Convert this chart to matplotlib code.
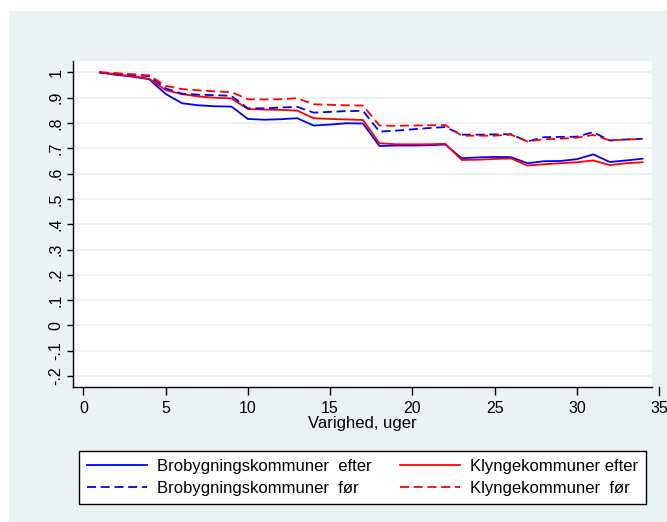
import numpy as np
import matplotlib
matplotlib.use("Agg")
import matplotlib.pyplot as plt
from matplotlib.patches import Rectangle

plt.rcParams["font.family"] = ["Liberation Sans", "DejaVu Sans"]

# Survival curves by week
weeks = list(range(1, 35))
bro_efter = [1.0, 0.99, 0.983, 0.973, 0.915, 0.878, 0.87, 0.866, 0.865, 0.816,
             0.813, 0.815, 0.819, 0.79, 0.794, 0.799, 0.798, 0.709, 0.711, 0.711,
             0.712, 0.715, 0.661, 0.664, 0.666, 0.665, 0.641, 0.649, 0.65, 0.657,
             0.676, 0.646, 0.652, 0.659]
klynge_efter = [1.0, 0.992, 0.985, 0.975, 0.93, 0.914, 0.905, 0.9, 0.897, 0.855,
                0.853, 0.852, 0.849, 0.819, 0.816, 0.814, 0.812, 0.72, 0.716, 0.716,
                0.716, 0.718, 0.654, 0.655, 0.658, 0.66, 0.632, 0.637, 0.641, 0.645,
                0.652, 0.634, 0.641, 0.645]
bro_for = [1.0, 0.995, 0.99, 0.985, 0.937, 0.916, 0.912, 0.91, 0.907, 0.858,
           0.858, 0.861, 0.864, 0.841, 0.844, 0.847, 0.848, 0.766, 0.77, 0.775,
           0.78, 0.784, 0.754, 0.754, 0.755, 0.756, 0.727, 0.744, 0.745, 0.746,
           0.764, 0.731, 0.735, 0.738]
klynge_for = [1.0, 0.997, 0.993, 0.988, 0.947, 0.934, 0.929, 0.925, 0.922, 0.894,
              0.893, 0.894, 0.898, 0.874, 0.872, 0.87, 0.869, 0.79, 0.789, 0.79,
              0.791, 0.792, 0.75, 0.75, 0.75, 0.754, 0.727, 0.736, 0.738, 0.742,
              0.753, 0.731, 0.735, 0.737]

labels = ["Brobygningskommuner  efter", "Brobygningskommuner  før",
          "Klyngekommuner efter", "Klyngekommuner  før"]
x_ticks = [0, 5, 10, 15, 20, 25, 30]
y_ticks = [1, 0.9, 0.8, 0.7, 0.6, 0.5, 0.4, 0.3, 0.2, 0.1, 0, -0.1, -0.2]
y_ticklabels = ["1", ".9", ".8", ".7", ".6", ".5", ".4", ".3", ".2", ".1", "0", "-.1", "-.2"]

BG = "#EAF2F3"
W, H = 667, 522

fig = plt.figure(figsize=(W / 100, H / 100), dpi=100, facecolor="white")
fig.patches.append(Rectangle((9 / W, 0), 1 - 9 / W, (H - 11) / H,
                             transform=fig.transFigure, facecolor=BG,
                             edgecolor="none", zorder=-10))

ax = fig.add_axes([72.7 / W, (H - 387) / H, (652 - 72.7) / W, (387 - 61) / H])
ax.set_facecolor("white")

dash = (0, (5, 2.6))
l1, = ax.plot(weeks, bro_efter, color="#0000FF", lw=1.3)
l3, = ax.plot(weeks, klynge_efter, color="#FF0000", lw=1.3)
l2, = ax.plot(weeks, bro_for, color="#0000FF", lw=1.3, linestyle=dash)
l4, = ax.plot(weeks, klynge_for, color="#FF0000", lw=1.3, linestyle=dash)

ax.set_xlim(-0.65, 34.57)
ax.set_ylim(-0.243, 1.045)

ax.set_xticks(x_ticks)
ax.set_yticks(y_ticks)
ax.set_yticklabels(y_ticklabels, rotation=90, va="center")
ax.tick_params(axis="x", length=6, width=1, labelsize=11.5, pad=4)
ax.tick_params(axis="y", length=4.3, width=1, labelsize=11.5, pad=2.5)
ax.grid(axis="y", color=BG, lw=1.4)
ax.set_axisbelow(True)

for side in ["top", "right"]:
    ax.spines[side].set_visible(False)
for side in ["left", "bottom"]:
    ax.spines[side].set_linewidth(1)

# the 35 tick sits just outside the plot region
tr = ax.get_xaxis_transform()
ax.plot([35, 35], [0, -0.0245], transform=tr, color="black", lw=1, clip_on=False)
ax.text(35, -0.0245 - 0.017, "35", transform=tr, ha="center", va="top", fontsize=11.5)

ax.set_xlabel("Varighed, uger", fontsize=12, labelpad=0)

leg = fig.legend([l1, l2, l3, l4], labels, ncol=2, loc="lower left",
                 bbox_to_anchor=(79 / W, (H - 504) / H, (646 - 79) / W, 58 / H),
                 mode="expand", borderaxespad=0, fontsize=12, frameon=True,
                 fancybox=False, edgecolor="black", facecolor="white",
                 framealpha=1, handlelength=3.6, handletextpad=0.6,
                 borderpad=0.5, labelspacing=0.4)
leg.get_frame().set_linewidth(1)

fig.savefig("out.png", dpi=100, facecolor=fig.get_facecolor())
